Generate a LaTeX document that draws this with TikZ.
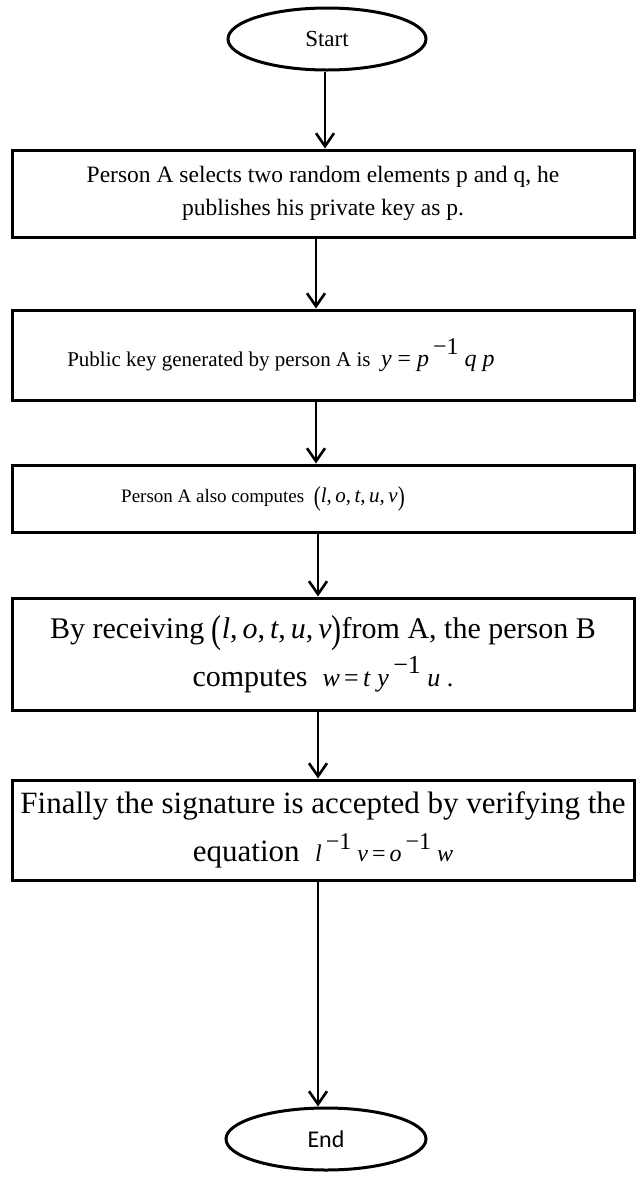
\documentclass[tikz,border=0pt]{standalone}
\usepackage{fontspec}
\setmainfont{Liberation Serif}
\newfontfamily\calibri{Carlito}
\usetikzlibrary{shapes.geometric,arrows.meta}
\newcommand{\mv}[1]{\textit{#1}}
\newcommand{\inv}{\raisebox{0.5em}{−1}}
\newcommand{\bpar}[1]{\raisebox{-0.12em}{\scalebox{1}[1.3]{#1}}}
\newcommand{\fs}[1]{\fontsize{#1}{#1}\selectfont}
\tikzset{
  box/.style={draw, line width=3pt, minimum width=622pt, align=center, inner sep=0pt},
  term/.style={ellipse, draw, line width=3pt, minimum width=198pt, minimum height=62pt, inner sep=0pt},
  arr/.style={line width=2.6pt, -{Straight Barb[length=13pt,width=18pt,line width=2.6pt]}}
}
\begin{document}
\begin{tikzpicture}[x=1pt,y=-1pt]
\useasboundingbox (0,0) rectangle (644,1179);
\node[term, font=\fs{23}] (start) at (327,39) {Start};
\node[box, minimum height=87pt, font=\fontsize{23.5}{33}\selectfont] (b1) at (323,193.5)
  {Person A selects two random elements p and q, he\\publishes his private key as p.};
\node[box, minimum height=90pt, font=\fs{21}] (b2) at (323,355)
  {\raisebox{5pt}{Public key generated by person A is \ {\fs{24}\mv{y} = \mv{p}\,\inv\ \mv{q} \mv{p}}}\hspace*{84pt}};
\node[box, minimum height=67pt, font=\fs{19}] (b3) at (323,498.5)
  {\raisebox{0.35em}{Person A also computes \ {\fs{21}\bpar{(}\mv{l},\,\mv{o},\,\mv{t},\,\mv{u},\,\mv{v}\bpar{)}}}\hspace*{120pt}};
\node[box, minimum height=112pt, font=\fontsize{30}{48}\selectfont] (b4) at (323,654)
  {By receiving \bpar{(}\mv{l},\,\mv{o},\,\mv{t},\,\mv{u},\,\mv{v}\bpar{)}from A, the person B\\
   computes \ {\fs{26}\mv{w}\,=\,\mv{t} \mv{y}\,\inv\ \mv{u} .}};
\node[box, minimum height=100pt, font=\fontsize{31}{48}\selectfont] (b5) at (323,830)
  {\raisebox{-7pt}{Finally the signature is accepted by verifying the}\\
   \raisebox{-7pt}{equation \ {\fs{24}\mv{l}\,\inv\ \mv{v}\,=\,\mv{o}\,\inv\ \mv{w}}}};
\node[term, minimum width=200pt, font=\calibri\fs{24}] (end) at (326,1139) {End};
\draw[arr] ([xshift=-2pt]start.south) -- ([xshift=2pt]b1.north);
\draw[arr] ([xshift=-7pt]b1.south) -- ([xshift=-7pt]b2.north);
\draw[arr] ([xshift=-7pt]b2.south) -- ([xshift=-7pt]b3.north);
\draw[arr] ([xshift=-5pt]b3.south) -- ([xshift=-5pt]b4.north);
\draw[arr] ([xshift=-5pt]b4.south) -- ([xshift=-5pt]b5.north);
\draw[arr] ([xshift=-5pt]b5.south) -- ([xshift=-8pt]end.north);
\end{tikzpicture}
\end{document}
